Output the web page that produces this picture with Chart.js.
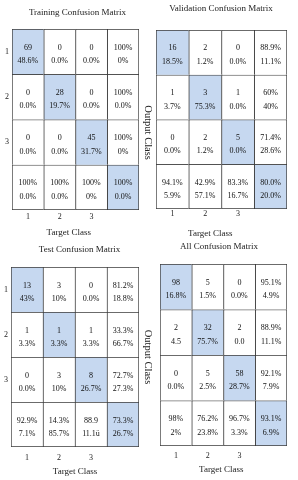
<!DOCTYPE html>
<html><head><meta charset="utf-8">
<script src="https://cdn.jsdelivr.net/npm/chart.js@4.4.0/dist/chart.umd.min.js"></script>
<style>
html,body{margin:0;padding:0;background:#fff;width:298px;height:480px;overflow:hidden;position:relative}
canvas{position:absolute;display:block}
</style></head><body>
<canvas id="c0"></canvas><canvas id="c1"></canvas><canvas id="c2"></canvas><canvas id="c3"></canvas>
<script>
// ---- data ----
const targetClasses = ['1', '2', '3', ''];
const outputClasses = ['1', '2', '3', ''];
const panelTitles = ['Training Confusion Matrix', 'Validation Confusion Matrix', 'Test Confusion Matrix', 'All Confusion Matrix'];
const xAxisTitle = 'Target Class';
const yAxisTitle = 'Output Class';

const trainingCounts   = [['69','0','0','100%'], ['0','28','0','100%'], ['0','0','45','100%'], ['100%','100%','100%','100%']];
const trainingPercents = [['48.6%','0.0%','0.0%','0%'], ['0.0%','19.7%','0.0%','0.0%'], ['0.0%','0.0%','31.7%','0%'], ['0.0%','0.0%','0%','0.0%']];

const validationCounts   = [['16','2','0','88.9%'], ['1','3','1','60%'], ['0','2','5','71.4%'], ['94.1%','42.9%','83.3%','80.0%']];
const validationPercents = [['18.5%','1.2%','0.0%','11.1%'], ['3.7%','75.3%','0.0%','40%'], ['0.0%','1.2%','0.0%','28.6%'], ['5.9%','57.1%','16.7%','20.0%']];

const testCounts   = [['13','3','0','81.2%'], ['1','1','1','33.3%'], ['0','3','8','72.7%'], ['92.9%','14.3%','88.9','73.3%']];
const testPercents = [['43%','10%','0.0%','18.8%'], ['3.3%','3.3%','3.3%','66.7%'], ['0.0%','10%','26.7%','27.3%'], ['7.1%','85.7%','11.1ü','26.7%']];

const allCounts   = [['98','5','0','95.1%'], ['2','32','2','88.9%'], ['0','5','58','92.1%'], ['98%','76.2%','96.7%','93.1%']];
const allPercents = [['16.8%','1.5%','0.0%','4.9%'], ['4.5','75.7%','0.0','11.1%'], ['0.0%','2.5%','28.7%','7.9%'], ['2%','23.8%','3.3%','6.9%']];

// each cell occupies one unit of a stacked bar
const cellUnit = [1, 1, 1, 1];

// ---- styles ----
const FONT = '"Liberation Serif", "Times New Roman", serif';
const BLUE = '#c6d8f0';
const LINE = '#3a3a3a';

function textPlugin(counts, percents) {
  return {
    id: 'cellText',
    afterDatasetsDraw(chart) {
      const ctx = chart.ctx;
      ctx.save();
      ctx.font = '8px ' + FONT;
      ctx.fillStyle = '#111';
      ctx.textAlign = 'center';
      ctx.textBaseline = 'middle';
      chart.data.datasets.forEach((ds, r) => {
        chart.getDatasetMeta(r).data.forEach((el, c) => {
          const cy = (el.y + el.base) / 2;
          ctx.fillText(counts[r][c], el.x, cy - 4);
          ctx.fillText(percents[r][c], el.x, cy + 9.5);
        });
      });
      ctx.restore();
    }
  };
}

function makePanel(cfg) {
  const cv = document.getElementById(cfg.id);
  cv.width = cfg.w; cv.height = cfg.h;
  cv.style.left = cfg.left + 'px'; cv.style.top = cfg.top + 'px';
  cv.style.width = cfg.w + 'px'; cv.style.height = cfg.h + 'px';

  const datasets = outputClasses.map((oc, r) => ({
    label: 'Output ' + (oc || 'total'),
    data: cellUnit.slice(),
    stack: 's',
    backgroundColor: ctx => (ctx.dataIndex === ctx.datasetIndex ? BLUE : '#ffffff'),
    borderColor: LINE,
    borderWidth: ctx => ({
      top: 1, left: 1,
      right: ctx.dataIndex === targetClasses.length - 1 ? 1 : 0,
      bottom: ctx.datasetIndex === outputClasses.length - 1 ? 1 : 0
    }),
    borderSkipped: false,
    barPercentage: 1,
    categoryPercentage: 1
  }));

  const scales = {
    x: {
      type: 'category',
      stacked: true,
      grid: { display: false, drawTicks: false },
      border: { display: false },
      ticks: { font: { family: FONT, size: 8 }, color: '#222', padding: cfg.tickPad, maxRotation: 0, autoSkip: false },
      title: { display: true, text: cfg.targetText, font: { family: FONT, size: 9 }, color: '#222', padding: { top: 0, bottom: cfg.targetPB } },
      afterFit: s => { s.height = cfg.xHeight; }
    },
    y: {
      type: 'linear',
      stacked: true,
      reverse: true,
      min: 0, max: outputClasses.length,
      grid: { display: false, drawTicks: false },
      border: { display: false },
      afterBuildTicks: s => { s.ticks = outputClasses.slice(0, 3).map((_, i) => ({ value: i + 0.5 })); },
      ticks: { display: cfg.rowTicks, font: { family: FONT, size: 8 }, color: '#222', padding: 3,
               callback: v => outputClasses[Math.floor(v)] },
      afterFit: s => { s.width = cfg.leftW; }
    }
  };
  if (cfg.rightW) {
    scales.yr = {
      type: 'linear', position: 'right', min: 0, max: 4,
      grid: { display: false, drawTicks: false },
      border: { display: false },
      ticks: { display: false },
      title: { display: true, text: cfg.outputText, font: { family: FONT, size: 10.5 }, color: '#222', padding: { top: cfg.outPad, bottom: 0 } },
      afterFit: s => { s.width = cfg.rightW; }
    };
  }

  new Chart(cv, {
    type: 'bar',
    data: { labels: targetClasses, datasets },
    options: {
      responsive: false,
      animation: false,
      devicePixelRatio: 1,
      layout: { padding: { left: 0, right: cfg.padR || 0, top: 0, bottom: 0 } },
      plugins: {
        legend: { display: false },
        tooltip: { enabled: false },
        title: { display: true, text: cfg.title, font: { family: FONT, size: 9, weight: 'normal' }, color: '#222',
                 padding: { top: cfg.titlePT, bottom: cfg.titlePB } }
      },
      scales
    },
    plugins: [textPlugin(cfg.counts, cfg.percents)]
  });
}

makePanel({ id: 'c0', left: 0, top: 0, w: 155, h: 240, title: panelTitles[0], titlePT: 7.6, titlePB: 10.6,
  leftW: 12, rowTicks: true, rightW: 16, outPad: 0.7, outputText: ' '.repeat(10) + yAxisTitle,
  xHeight: 30, tickPad: 2, targetPB: 1.6, targetText: xAxisTitle + ' '.repeat(6),
  counts: trainingCounts, percents: trainingPercents });

makePanel({ id: 'c1', left: 155, top: 0, w: 143, h: 240, title: panelTitles[1], titlePT: 3.4, titlePB: 15.8,
  leftW: 1, rowTicks: false, padR: 11,
  xHeight: 31, tickPad: 0, targetPB: 1.3, targetText: xAxisTitle + ' '.repeat(10),
  counts: validationCounts, percents: validationPercents });

makePanel({ id: 'c2', left: 0, top: 240, w: 159, h: 240, title: panelTitles[2], titlePT: 4.6, titlePB: 11.6,
  leftW: 11, rowTicks: true, rightW: 20, outPad: 4.7, outputText: yAxisTitle,
  xHeight: 33, tickPad: 6.2, targetPB: 2.6, targetText: xAxisTitle,
  counts: testCounts, percents: testPercents });

makePanel({ id: 'c3', left: 151, top: 240, w: 147, h: 240, title: panelTitles[3], titlePT: 1.6, titlePB: 11.6,
  leftW: 9, rowTicks: false, padR: 11,
  xHeight: 34, tickPad: 5.2, targetPB: 4.6, targetText: xAxisTitle + ' '.repeat(2),
  counts: allCounts, percents: allPercents });
</script>
</body></html>
